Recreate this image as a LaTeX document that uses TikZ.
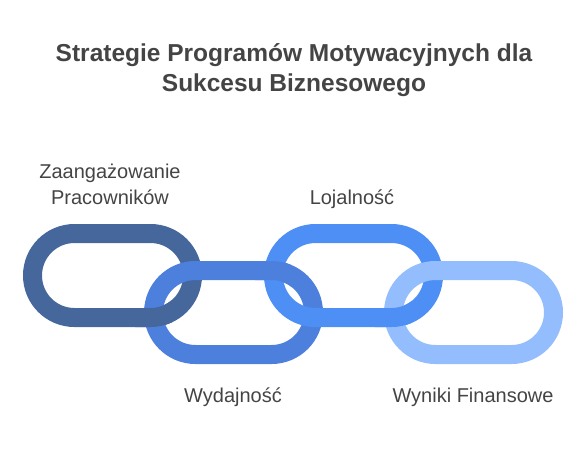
\documentclass[tikz,border=0pt]{standalone}
\usepackage{fontspec}
\setmainfont{Liberation Sans}
\usetikzlibrary{shapes.misc}
\definecolor{inkgray}{HTML}{444444}
\definecolor{linkA}{HTML}{45679C}
\definecolor{linkB}{HTML}{4D80DD}
\definecolor{linkC}{HTML}{4E8FF6}
\definecolor{linkD}{HTML}{94BDFD}
\begin{document}
\begin{tikzpicture}[x=1pt, y=-1pt,
  chainlink/.style={draw, rounded rectangle, minimum width=160pt, minimum height=84pt, inner sep=0pt, line width=19pt},
  caption/.style={text=inkgray, inner sep=0pt, align=center, font=\fontsize{20}{26}\selectfont}]
\useasboundingbox (0,0) rectangle (588,456);
\node[text=inkgray, inner sep=0pt, align=center, anchor=base, font=\fontsize{24.5}{30}\selectfont\bfseries] (title) at (294,91.7) {Strategie Programów Motywacyjnych dla\\Sukcesu Biznesowego};
% the four links, left to right
\node[chainlink, draw=linkA] (link1) at (112.5,275.5) {};
\node[chainlink, draw=linkB] (link2) at (233.5,312.5) {};
\node[chainlink, draw=linkC] (link3) at (353.5,275.5) {};
\node[chainlink, draw=linkD] (link4) at (473.5,312.5) {};
% put the bars back on top where they cross
\begin{scope}
\clip (135,300) rectangle (172,336);
\node[chainlink, draw=linkA] at (link1.center) {};
\end{scope}
\begin{scope}
\clip (255,252) rectangle (292,290);
\node[chainlink, draw=linkB] at (link2.center) {};
\end{scope}
\begin{scope}
\clip (375,300) rectangle (412,336);
\node[chainlink, draw=linkC] at (link3.center) {};
\end{scope}
% labels
\node[caption, anchor=base] (engage) at (110,204.5) {Zaangażowanie\\Pracowników};
\node[caption, anchor=base] (loyalty) at (352,204.5) {Lojalność};
\node[caption, anchor=base] (output) at (233,402.3) {Wydajność};
\node[caption, anchor=base] (results) at (473,402.3) {Wyniki Finansowe};
\end{tikzpicture}
\end{document}
